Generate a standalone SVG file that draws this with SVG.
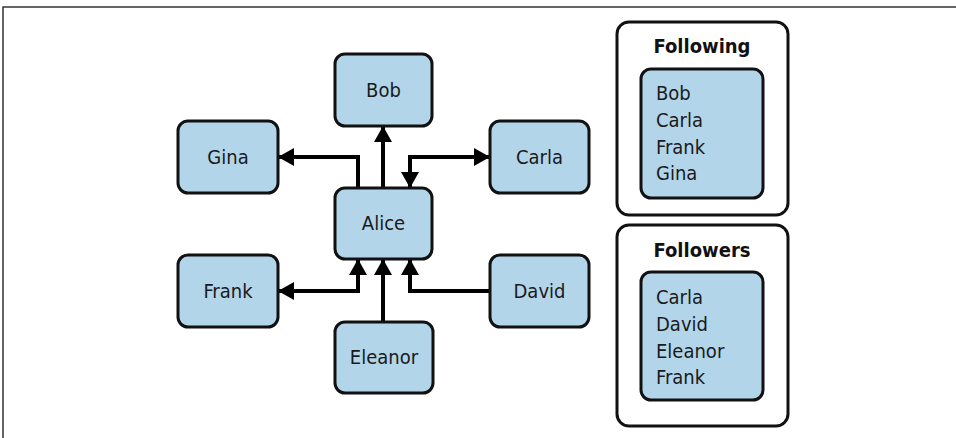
<svg xmlns="http://www.w3.org/2000/svg" width="956" height="438" viewBox="0 0 956 438">
  <defs>
    <style>
      .node { fill: #b3d5ea; stroke: #111; stroke-width: 3; }
      .panel { fill: #fff; stroke: #111; stroke-width: 3; }
      .lbl { font-family: "Liberation Sans Narrow", "DejaVu Sans Condensed", "Roboto Condensed", "Liberation Sans", sans-serif; font-stretch: condensed; font-size: 20px; fill: #1a1a1a; }
      .mid { text-anchor: middle; }
      .title { font-size: 20px; font-weight: bold; fill: #111; }
      .edge { fill: none; stroke: #000; stroke-width: 4; }
      .frame { fill: none; stroke: #333; stroke-width: 1.5; }
    </style>
    <marker id="head" viewBox="0 0 16 18" refX="15" refY="9" markerWidth="16" markerHeight="18" markerUnits="userSpaceOnUse" orient="auto-start-reverse">
      <path d="M0,0 L16,9 L0,18 Z" fill="#000"/>
    </marker>
  </defs>

  <!-- page frame -->
  <path class="frame" d="M3,438 V7 H956"/>

  <!-- connectors -->
  <g id="edges">
    <path class="edge" d="M383,188 V127" marker-end="url(#head)"/>
    <path class="edge" d="M358,188 V157 H279" marker-end="url(#head)"/>
    <path class="edge" d="M489,157 H410 V187" marker-start="url(#head)" marker-end="url(#head)"/>
    <path class="edge" d="M279,291 H358 V260" marker-start="url(#head)" marker-end="url(#head)"/>
    <path class="edge" d="M383,322 V260" marker-end="url(#head)"/>
    <path class="edge" d="M490,291 H410 V260" marker-end="url(#head)"/>
  </g>

  <!-- graph nodes -->
  <g id="bob">
    <rect class="node" x="335" y="54" width="97" height="72" rx="10"/>
    <text class="lbl mid" x="383.5" y="97">Bob</text>
  </g>
  <g id="gina">
    <rect class="node" x="178" y="121" width="100" height="72" rx="10"/>
    <text class="lbl mid" x="228" y="164">Gina</text>
  </g>
  <g id="carla">
    <rect class="node" x="490" y="121" width="99" height="72" rx="10"/>
    <text class="lbl mid" x="539.5" y="164">Carla</text>
  </g>
  <g id="alice">
    <rect class="node" x="335" y="188" width="97" height="71" rx="10"/>
    <text class="lbl mid" x="383.5" y="230">Alice</text>
  </g>
  <g id="frank">
    <rect class="node" x="178" y="255" width="100" height="72" rx="10"/>
    <text class="lbl mid" x="228" y="298">Frank</text>
  </g>
  <g id="david">
    <rect class="node" x="490" y="255" width="99" height="72" rx="10"/>
    <text class="lbl mid" x="539.5" y="298">David</text>
  </g>
  <g id="eleanor">
    <rect class="node" x="335" y="322" width="98" height="71" rx="10"/>
    <text class="lbl mid" x="384" y="364">Eleanor</text>
  </g>

  <!-- summary panels -->
  <g id="following">
    <rect class="panel" x="617" y="22" width="171" height="193" rx="12"/>
    <text class="lbl title mid" x="702" y="53">Following</text>
    <rect class="node" x="641" y="69" width="122" height="129" rx="10"/>
    <text class="lbl" x="656" y="100">Bob</text>
    <text class="lbl" x="656" y="127">Carla</text>
    <text class="lbl" x="656" y="154">Frank</text>
    <text class="lbl" x="656" y="180">Gina</text>
  </g>
  <g id="followers">
    <rect class="panel" x="617" y="225" width="171" height="201" rx="12"/>
    <text class="lbl title mid" x="702" y="257">Followers</text>
    <rect class="node" x="641" y="272" width="122" height="128" rx="10"/>
    <text class="lbl" x="656" y="304">Carla</text>
    <text class="lbl" x="656" y="331">David</text>
    <text class="lbl" x="656" y="358">Eleanor</text>
    <text class="lbl" x="656" y="384">Frank</text>
  </g>
</svg>
